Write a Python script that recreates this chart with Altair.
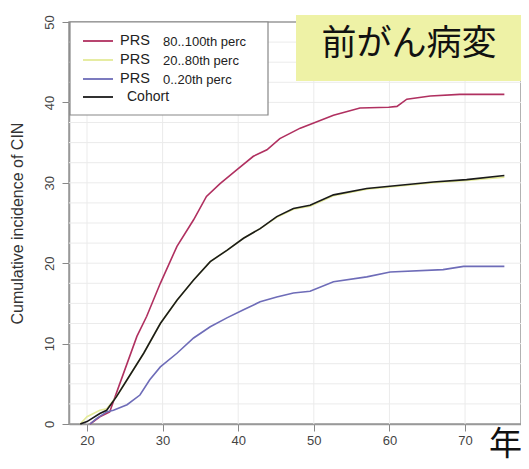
import altair as alt
import pandas as pd

# ---- data ----
high_age = [20.4, 21.7, 23.0, 24.1, 26.6, 27.9, 29.7, 31.9, 34.1, 35.8, 37.6, 39.8, 42.0, 43.8,
            45.5, 48.2, 49.9, 52.6, 56.1, 59.9, 61.0, 62.3, 65.4, 69.3, 75.2]
high_val = [0.0, 0.9, 1.5, 4.4, 10.9, 13.4, 17.5, 22.1, 25.4, 28.3, 29.9, 31.6, 33.3, 34.1,
            35.5, 36.8, 37.4, 38.4, 39.3, 39.4, 39.5, 40.4, 40.8, 41.0, 41.0]

mid_age = [19.1, 20.0, 21.7, 22.6, 23.9, 25.3, 27.5, 29.7, 31.9, 34.1, 36.3, 38.5, 40.7, 42.9,
           45.1, 47.3, 49.5, 52.6, 57.0, 61.4, 65.8, 70.2, 75.2]
mid_val = [0.0, 0.9, 1.7, 1.9, 3.4, 5.5, 8.8, 12.5, 15.4, 17.9, 20.2, 21.6, 23.1, 24.3,
           25.7, 26.7, 27.1, 28.4, 29.2, 29.6, 30.0, 30.3, 30.7]

low_age = [20.4, 21.3, 22.6, 23.5, 25.3, 27.0, 28.3, 29.7, 31.9, 34.1, 36.3, 38.5, 40.7, 42.9,
           45.1, 47.3, 49.5, 52.6, 57.0, 60.1, 67.1, 69.8, 75.2]
low_val = [0.0, 0.7, 1.5, 1.7, 2.4, 3.6, 5.5, 7.1, 8.8, 10.7, 12.1, 13.2, 14.2, 15.2,
           15.8, 16.3, 16.5, 17.7, 18.3, 18.9, 19.2, 19.6, 19.6]

cohort_age = [19.1, 20.0, 21.7, 22.6, 23.9, 25.3, 27.5, 29.7, 31.9, 34.1, 36.3, 38.5, 40.7, 42.9,
              45.1, 47.3, 49.5, 52.6, 57.0, 61.4, 65.8, 70.2, 75.2]
cohort_val = [0.0, 0.3, 1.3, 1.7, 3.4, 5.5, 8.8, 12.5, 15.4, 17.9, 20.2, 21.6, 23.1, 24.3,
              25.8, 26.8, 27.2, 28.5, 29.3, 29.7, 30.1, 30.4, 30.9]

series_names = ["PRS 80..100th perc", "PRS 20..80th perc", "PRS 0..20th perc", "Cohort"]
series_colors = ["#b03060", "#e4ea98", "#6e6cb8", "#1a1a1a"]
legend_prs = ["PRS", "PRS", "PRS", ""]
legend_rest = ["80..100th perc", "20..80th perc", "0..20th perc", "Cohort"]

x_ticks = [20, 30, 40, 50, 60, 70]
y_ticks = [0, 10, 20, 30, 40, 50]
grid_x = [20, 30, 40, 50, 60, 70]
grid_y = [2.5 * i for i in range(1, 20)]

annotation = "前がん病変"
x_label = "年齢"
y_title = "Cumulative incidence of CIN"

# ---- build tables ----
rows = []
for name, ages, vals in zip(series_names,
                            [high_age, mid_age, low_age, cohort_age],
                            [high_val, mid_val, low_val, cohort_val]):
    for i, (a, v) in enumerate(zip(ages, vals)):
        rows.append({"series": name, "age": a, "inc": v, "order": i})
df = pd.DataFrame(rows)

W, H = 452, 402
xscale = alt.Scale(domain=[17.62, 77.4], nice=False, zero=False)
yscale = alt.Scale(domain=[0, 50], nice=False, zero=True)

x_axis = alt.Axis(values=x_ticks, format="d", title=None, tickSize=7,
                  tickColor="#888", labelFontSize=13, labelColor="#444",
                  labelPadding=3, domainColor="#999", domainWidth=1.5, grid=False)
y_axis = alt.Axis(values=y_ticks, format="d", title=y_title, tickSize=7,
                  tickColor="#888", labelFontSize=13, labelColor="#444",
                  labelAngle=270, labelAlign="center", labelBaseline="bottom",
                  labelPadding=6, domainColor="#999", domainWidth=1.5,
                  titleFontSize=16, titleColor="#333", titleFontWeight="normal",
                  titlePadding=18, grid=False)

grid_h = alt.Chart(pd.DataFrame({"v": grid_y})).mark_rule(
    color="#ebebeb", strokeWidth=1).encode(
    y=alt.Y("v:Q", scale=yscale, axis=y_axis))
grid_v = alt.Chart(pd.DataFrame({"v": grid_x})).mark_rule(
    color="#ebebeb", strokeWidth=1).encode(
    x=alt.X("v:Q", scale=xscale, axis=x_axis))

lines = alt.Chart(df).mark_line(strokeWidth=1.6).encode(
    x=alt.X("age:Q", scale=xscale, axis=x_axis),
    y=alt.Y("inc:Q", scale=yscale, axis=y_axis),
    color=alt.Color("series:N", scale=alt.Scale(domain=series_names, range=series_colors),
                    legend=None),
    order="order:Q",
)

one = pd.DataFrame({"k": [0]})

# legend box
leg_box = alt.Chart(one).mark_rect(fill="white", stroke="#888", strokeWidth=1.2).encode(
    x=alt.value(1), x2=alt.value(199), y=alt.value(0), y2=alt.value(93))

layers = [grid_h, grid_v, leg_box]
row_y = [19, 38, 57, 75]
for i in range(4):
    layers.append(alt.Chart(one).mark_rule(color=series_colors[i], strokeWidth=1.8).encode(
        x=alt.value(14), x2=alt.value(44), y=alt.value(row_y[i])))
    if legend_prs[i]:
        layers.append(alt.Chart(one).mark_text(
            text=legend_prs[i], align="left", baseline="middle", fontSize=14.5,
            color="#222", font="Liberation Sans").encode(
            x=alt.value(51), y=alt.value(row_y[i])))
        layers.append(alt.Chart(one).mark_text(
            text=legend_rest[i], align="left", baseline="middle", fontSize=13,
            color="#222", font="Liberation Sans").encode(
            x=alt.value(94), y=alt.value(row_y[i] + 0.5)))
    else:
        layers.append(alt.Chart(one).mark_text(
            text=legend_rest[i], align="left", baseline="middle", fontSize=14,
            color="#222", font="Liberation Sans").encode(
            x=alt.value(58), y=alt.value(row_y[i])))

ann_box = alt.Chart(one).mark_rect(fill="#eef2a6").encode(
    x=alt.value(227), x2=alt.value(456), y=alt.value(-7), y2=alt.value(59))
ann_text = alt.Chart(one).mark_text(
    text=annotation, fontSize=35, font="Noto Sans CJK JP", color="#111",
    align="center", baseline="middle").encode(x=alt.value(340), y=alt.value(22))
xlab = alt.Chart(one).mark_text(
    text=x_label, fontSize=33, font="Noto Sans CJK JP", color="#111",
    align="left", baseline="middle").encode(x=alt.value(420), y=alt.value(423))

chart = alt.layer(*layers, lines, ann_box, ann_text, xlab).properties(
    width=W, height=H,
    autosize=alt.AutoSizeParams(type="none"),
    padding={"left": 61, "top": 14, "right": 0, "bottom": 36},
).configure(font="Liberation Sans").configure_view(stroke="#999", strokeWidth=1.5)

chart.save("out.html", embed_options={"renderer": "svg", "actions": False})
